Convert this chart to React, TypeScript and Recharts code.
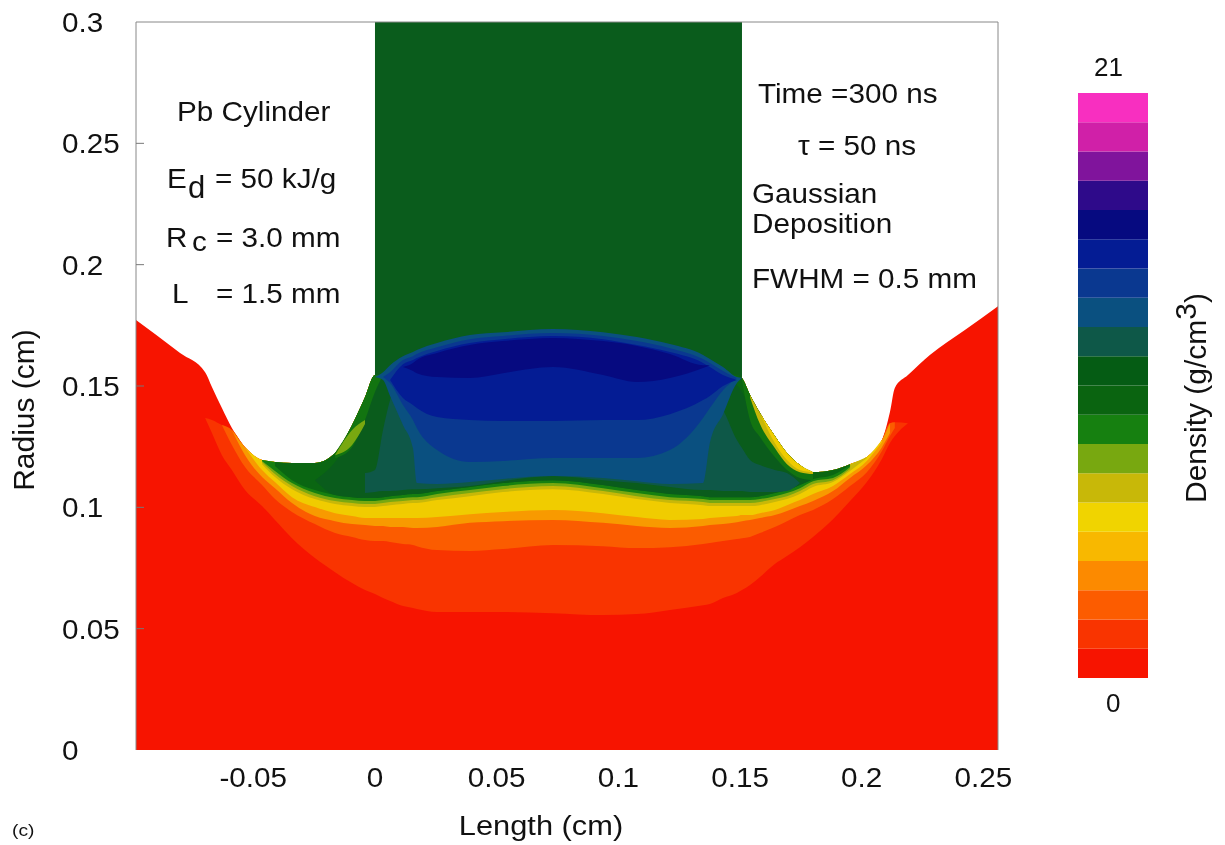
import React from 'react';
import {
  Area,
  Bar,
  BarChart,
  ComposedChart,
  ReferenceLine,
  XAxis,
  YAxis,
} from 'recharts';

const _ = null;

const xTicks = [-0.05, 0, 0.05, 0.1, 0.15, 0.2, 0.25];
const yTicks = [0, 0.05, 0.1, 0.15, 0.2, 0.25, 0.3];

// length samples (cm), left wing / centre / right wing
const lengths = [
  -0.0982, -0.0904, -0.0801, -0.0698, -0.067, -0.0629, -0.0588, -0.0534, -0.0464, -0.0411, -0.0341, -0.0247, -0.0164, -0.0094, -0.0041, 0,
  0.0033, 0.0062, 0.0115, 0.0156, 0.0172, 0.0255, 0.039, 0.0526, 0.0731, 0.0937, 0.1076, 0.1212, 0.1348, 0.1376, 0.143, 0.1487,
  0.1508, 0.1541, 0.1582, 0.1643, 0.1693, 0.1746, 0.18, 0.1882, 0.1952, 0.2021, 0.2083, 0.2116, 0.2136, 0.219, 0.228, 0.2424, 0.256,
];

// radius (cm) of each contour at those lengths
const surface = [
  0.1772, 0.1714, 0.1636, 0.1557, 0.1496, 0.1409, 0.1327, 0.1248, 0.1195, 0.1187, 0.1183, 0.1183, 0.1224, 0.1339, 0.1454, 0.1545,
  0.1545, 0.1545, 0.1545, 0.1545, 0.1545, 0.1545, 0.1545, 0.1545, 0.1545, 0.1545, 0.1545, 0.1545, 0.1545, 0.1545, 0.1545, 0.1545,
  0.1533, 0.1463, 0.1389, 0.1294, 0.1224, 0.1174, 0.1145, 0.1154, 0.1178, 0.1207, 0.1277, 0.1393, 0.1492, 0.1545, 0.1628, 0.1731, 0.1829,
];
const bandTop = [
  _, _, _, 0.1368, 0.136, 0.1339, 0.1319, 0.1248, 0.1195, 0.1187, 0.1183, 0.1183, 0.1224, 0.1339, 0.1454, 0.1545,
  0.1545, 0.1545, 0.1545, 0.1545, 0.1545, 0.1545, 0.1545, 0.1545, 0.1545, 0.1545, 0.1545, 0.1545, 0.1545, 0.1545, 0.1545, 0.1545,
  0.1533, 0.1463, 0.1389, 0.1294, 0.1224, 0.1174, 0.1145, 0.1154, 0.1178, 0.1207, 0.1277, 0.1347, 0.1351, 0.1347, _, _, _,
];
const redEdge = [
  _, _, _, 0.1368, 0.1306, 0.1215, 0.1154, 0.1071, 0.1005, 0.0948, 0.0873, 0.0791, 0.0733, 0.0688, 0.0659, 0.0643,
  0.0626, 0.0614, 0.0593, 0.0585, 0.0581, 0.0569, 0.0569, 0.0569, 0.0564, 0.0556, 0.056, 0.0577, 0.0597, 0.0602, 0.0626, 0.0647,
  0.0659, 0.068, 0.0713, 0.0766, 0.0799, 0.0836, 0.0878, 0.0951, 0.1026, 0.1104, 0.1199, 0.1265, 0.1294, 0.1347, _, _, _,
];
const orangeEdge = [
  _, _, _, _, _, 0.1339, 0.1257, 0.1166, 0.1092, 0.1034, 0.0981, 0.0931, 0.0894, 0.0878, 0.0865, 0.0861,
  0.0861, 0.0857, 0.0849, 0.0845, 0.084, 0.0824, 0.082, 0.0828, 0.0845, 0.084, 0.0832, 0.0836, 0.0849, 0.0853, 0.0861, 0.0869,
  0.0873, 0.0878, 0.0894, 0.0919, 0.0943, 0.0968, 0.0989, 0.1034, 0.1088, 0.1145, 0.1232, 0.1294, 0.1327, _, _, _, _,
];
const amberEdge = [
  _, _, _, _, _, _, 0.1319, 0.1215, 0.1125, 0.1079, 0.1018, 0.0964, 0.0943, 0.0931, 0.0927, 0.0923,
  0.0923, 0.0919, 0.0919, 0.0915, 0.0915, 0.0919, 0.0936, 0.0943, 0.0948, 0.0936, 0.0923, 0.0915, 0.0923, 0.0927, 0.0931, 0.0939,
  0.0943, 0.0948, 0.0956, 0.0968, 0.0985, 0.1005, 0.1026, 0.1067, 0.1121, 0.1174, 0.1248, 0.1306, _, _, _, _, _,
];
const yellowEdge = [
  _, _, _, _, _, _, _, 0.1248, 0.1154, 0.1104, 0.1042, 0.1001, 0.0976, 0.0964, 0.0956, 0.0956,
  0.0956, 0.0956, 0.0956, 0.0956, 0.0956, 0.096, 0.0972, 0.0981, 0.0989, 0.0976, 0.096, 0.0948, 0.0952, 0.0956, 0.096, 0.0964,
  0.0968, 0.0968, 0.0976, 0.0989, 0.1009, 0.103, 0.1055, 0.1088, 0.1137, 0.1191, 0.1269, _, _, _, _, _, _,
];
const oliveEdge = [
  _, _, _, _, _, _, _, _, 0.1178, 0.1125, 0.1075, 0.1034, 0.1014, 0.1005, 0.1001, 0.1001,
  0.1005, 0.1009, 0.1014, 0.1018, 0.1018, 0.103, 0.1046, 0.1063, 0.1075, 0.1055, 0.1034, 0.1018, 0.1009, 0.1005, 0.1005, 0.1005,
  0.1005, 0.1005, 0.1009, 0.1022, 0.1034, 0.1055, 0.1084, 0.1104, 0.115, 0.1203, _, _, _, _, _, _, _,
];
const limeEdge = [
  _, _, _, _, _, _, _, _, 0.1187, 0.1137, 0.1088, 0.1046, 0.1026, 0.1018, 0.1014, 0.1014,
  0.1018, 0.1022, 0.1026, 0.103, 0.103, 0.1042, 0.1059, 0.1075, 0.1088, 0.1067, 0.1046, 0.103, 0.1022, 0.1018, 0.1018, 0.1018,
  0.1018, 0.1018, 0.1022, 0.1034, 0.1046, 0.1067, 0.1096, 0.1112, 0.1158, _, _, _, _, _, _, _, _,
];
const greenEdge = [
  _, _, _, _, _, _, _, _, 0.1191, 0.115, 0.11, 0.1059, 0.1038, 0.103, 0.1026, 0.1026,
  0.103, 0.1034, 0.1038, 0.1042, 0.1042, 0.1055, 0.1071, 0.1088, 0.11, 0.1079, 0.1059, 0.1042, 0.1034, 0.103, 0.103, 0.103,
  0.103, 0.103, 0.1034, 0.1046, 0.1059, 0.1079, 0.1108, 0.1121, 0.1166, _, _, _, _, _, _, _, _,
];
const darkEdge = [
  _, _, _, _, _, _, _, _, _, 0.117, 0.1112, 0.1071, 0.1051, 0.1042, 0.1038, 0.1038,
  0.1042, 0.1046, 0.1051, 0.1055, 0.1055, 0.1067, 0.1084, 0.11, 0.1112, 0.1092, 0.1071, 0.1055, 0.1046, 0.1042, 0.1042, 0.1042,
  0.1042, 0.1042, 0.1046, 0.1059, 0.1071, 0.1092, 0.1116, 0.1133, 0.1174, _, _, _, _, _, _, _, _,
];
const deepLow = [
  _, _, _, _, _, _, _, _, _, _, _, 0.1112, 0.1051, 0.1042, 0.1038, 0.1038,
  0.1042, 0.1046, 0.1051, 0.1055, 0.1055, 0.1067, 0.1084, 0.11, 0.1112, 0.1092, 0.1071, 0.1055, 0.1046, 0.1042, 0.1042, 0.1042,
  0.1042, 0.1042, 0.1046, 0.1059, 0.1071, 0.1092, 0.1116, _, _, _, _, _, _, _, _, _, _,
];
const deepHigh = [
  _, _, _, _, _, _, _, _, _, _, _, 0.1112, 0.1187, 0.1298, 0.1413, 0.1504,
  0.1545, 0.1545, 0.1545, 0.1545, 0.1545, 0.1545, 0.1545, 0.1545, 0.1545, 0.1545, 0.1545, 0.1545, 0.1545, 0.1545, 0.1545, 0.1504,
  0.1475, 0.1393, 0.1311, 0.1224, 0.117, 0.1133, 0.1124, _, _, _, _, _, _, _, _, _, _,
];
const columnLow = [
  _, _, _, _, _, _, _, _, _, _, _, _, _, _, _, 0.1545,
  0.1545, 0.1545, 0.1545, 0.1545, 0.1545, 0.1545, 0.1545, 0.1545, 0.1545, 0.1545, 0.1545, 0.1545, 0.1545, 0.1545, 0.1545, 0.1545,
  0.1533, _, _, _, _, _, _, _, _, _, _, _, _, _, _, _, _,
];
const columnTop = [
  _, _, _, _, _, _, _, _, _, _, _, _, _, _, _, 0.3,
  0.3, 0.3, 0.3, 0.3, 0.3, 0.3, 0.3, 0.3, 0.3, 0.3, 0.3, 0.3, 0.3, 0.3, 0.3, 0.3,
  0.3, _, _, _, _, _, _, _, _, _, _, _, _, _, _, _, _,
];
const leftRing = [
  _, _, _, _, _, _, _, _, _, _, _, _, 0.1203, 0.1248, 0.136, 0.1475,
  0.1545, _, _, _, _, _, _, _, _, _, _, _, _, _, _, _,
  _, _, _, _, _, _, _, _, _, _, _, _, _, _, _, _, _,
];
const spotLow = [
  _, _, _, _, _, _, _, _, _, _, _, _, 0.1215, 0.1257, 0.1343, _,
  _, _, _, _, _, _, _, _, _, _, _, _, _, _, _, _,
  _, _, _, _, _, _, _, _, _, _, _, _, _, _, _, _, _,
];
const spotHigh = [
  _, _, _, _, _, _, _, _, _, _, _, _, 0.1215, 0.1319, 0.136, _,
  _, _, _, _, _, _, _, _, _, _, _, _, _, _, _, _,
  _, _, _, _, _, _, _, _, _, _, _, _, _, _, _, _, _,
];
const rightRing = [
  _, _, _, _, _, _, _, _, _, _, _, _, _, _, _, _,
  _, _, _, _, _, _, _, _, _, _, _, _, _, _, _, _,
  0.1525, 0.136, 0.129, 0.1207, 0.1154, 0.1121, 0.1112, _, _, _, _, _, _, _, _, _, _,
];
const rightOlive = [
  _, _, _, _, _, _, _, _, _, _, _, _, _, _, _, _,
  _, _, _, _, _, _, _, _, _, _, _, _, _, _, _, _,
  _, 0.1454, 0.1343, 0.1244, 0.1178, 0.1145, 0.1137, _, _, _, _, _, _, _, _, _, _,
];
const rightYellow = [
  _, _, _, _, _, _, _, _, _, _, _, _, _, _, _, _,
  _, _, _, _, _, _, _, _, _, _, _, _, _, _, _, _,
  _, _, 0.1389, 0.1265, 0.1195, 0.1154, 0.1145, _, _, _, _, _, _, _, _, _, _,
];
const tealLow = [
  _, _, _, _, _, _, _, _, _, _, _, _, _, _, 0.1059, 0.1063,
  0.1067, 0.1067, 0.1071, 0.1075, 0.1075, 0.1079, 0.1088, 0.1108, 0.1129, 0.1112, 0.11, 0.1084, 0.1071, 0.1071, 0.1067, 0.1067,
  0.1067, 0.1063, 0.1063, 0.1063, 0.1067, 0.11, _, _, _, _, _, _, _, _, _, _, _,
];
const tealHigh = [
  _, _, _, _, _, _, _, _, _, _, _, _, _, _, 0.1141, 0.1154,
  0.1319, 0.1442, 0.1545, 0.1545, 0.1545, 0.1545, 0.1545, 0.1545, 0.1545, 0.1545, 0.1545, 0.1545, 0.1545, 0.1463, 0.1401, 0.1277,
  0.1244, 0.1195, 0.1174, 0.1154, 0.1141, 0.11, _, _, _, _, _, _, _, _, _, _, _,
];
const steelLow = [
  _, _, _, _, _, _, _, _, _, _, _, _, _, _, _, 0.1537,
  0.1525, 0.1459, 0.1339, 0.1244, 0.11, 0.1096, 0.1104, 0.1117, 0.1129, 0.1121, 0.1108, 0.1096, 0.11, 0.1265, 0.1384, 0.1512,
  0.1533, _, _, _, _, _, _, _, _, _, _, _, _, _, _, _, _,
];
const steelHigh = [
  _, _, _, _, _, _, _, _, _, _, _, _, _, _, _, 0.1537,
  0.1557, 0.1586, 0.1623, 0.164, 0.1648, 0.1677, 0.171, 0.1722, 0.1735, 0.1722, 0.1702, 0.1673, 0.1628, 0.1611, 0.1578, 0.1537,
  0.1533, _, _, _, _, _, _, _, _, _, _, _, _, _, _, _, _,
];
const blueLow = [
  _, _, _, _, _, _, _, _, _, _, _, _, _, _, _, _,
  0.1537, 0.1512, 0.1422, 0.136, 0.1327, 0.1236, 0.1187, 0.1191, 0.1203, 0.1203, 0.1203, 0.1236, 0.1368, 0.1409, 0.1483, 0.1533,
  _, _, _, _, _, _, _, _, _, _, _, _, _, _, _, _, _,
];
const blueHigh = [
  _, _, _, _, _, _, _, _, _, _, _, _, _, _, _, _,
  0.1537, 0.1557, 0.1607, 0.1623, 0.1632, 0.166, 0.1693, 0.1706, 0.1718, 0.1706, 0.1685, 0.1656, 0.1611, 0.1595, 0.1562, 0.1533,
  _, _, _, _, _, _, _, _, _, _, _, _, _, _, _, _, _,
];
const royalLow = [
  _, _, _, _, _, _, _, _, _, _, _, _, _, _, _, _,
  _, 0.1525, 0.1451, 0.1422, 0.1409, 0.1372, 0.136, 0.1356, 0.1356, 0.136, 0.136, 0.1384, 0.1442, 0.1459, 0.15, 0.1525,
  _, _, _, _, _, _, _, _, _, _, _, _, _, _, _, _, _,
];
const royalHigh = [
  _, _, _, _, _, _, _, _, _, _, _, _, _, _, _, _,
  _, 0.1525, 0.159, 0.1607, 0.1615, 0.1644, 0.1677, 0.1693, 0.1706, 0.1693, 0.1669, 0.164, 0.1595, 0.1578, 0.1545, 0.1525,
  _, _, _, _, _, _, _, _, _, _, _, _, _, _, _, _, _,
];
const navyLow = [
  _, _, _, _, _, _, _, _, _, _, _, _, _, _, _, _,
  _, _, 0.1578, 0.1562, 0.1553, 0.1537, 0.1533, 0.1553, 0.1578, 0.1545, 0.1516, 0.1533, 0.1574, 0.1586, _, _,
  _, _, _, _, _, _, _, _, _, _, _, _, _, _, _, _, _,
];
const navyHigh = [
  _, _, _, _, _, _, _, _, _, _, _, _, _, _, _, _,
  _, _, 0.1578, 0.1595, 0.1607, 0.1636, 0.1669, 0.1685, 0.1698, 0.1685, 0.1665, 0.1632, 0.1586, 0.1586, _, _,
  _, _, _, _, _, _, _, _, _, _, _, _, _, _, _, _, _,
];

// painted back to front
const layers = [
  { key: 'redOrange', color: '#f93400', low: redEdge, high: bandTop },
  { key: 'orange', color: '#fb5c00', low: orangeEdge, high: bandTop },
  { key: 'amber', color: '#f89a00', low: amberEdge, high: bandTop },
  { key: 'yellow', color: '#f0cc00', low: yellowEdge, high: bandTop },
  { key: 'olive', color: '#c8b808', low: oliveEdge, high: bandTop },
  { key: 'lime', color: '#78a810', low: limeEdge, high: bandTop },
  { key: 'green', color: '#168010', low: greenEdge, high: bandTop },
  { key: 'dark', color: '#0a6612', low: darkEdge, high: bandTop },
  { key: 'deep', color: '#0a5c1c', low: deepLow, high: deepHigh },
  { key: 'column', color: '#0a5c1c', low: columnLow, high: columnTop, straight: true },
  { key: 'leftRing', color: '#127410', low: leftRing, high: surface },
  { key: 'spot', color: '#78a810', low: spotLow, high: spotHigh },
  { key: 'rightRing', color: '#127410', low: rightRing, high: surface },
  { key: 'rightOlive', color: '#c8b808', low: rightOlive, high: surface },
  { key: 'rightYellow', color: '#f0cc00', low: rightYellow, high: surface },
  { key: 'teal', color: '#0e5848', low: tealLow, high: tealHigh },
  { key: 'steel', color: '#0a5080', low: steelLow, high: steelHigh },
  { key: 'blue', color: '#0a3890', low: blueLow, high: blueHigh },
  { key: 'royal', color: '#041c94', low: royalLow, high: royalHigh },
  { key: 'navy', color: '#060a80', low: navyLow, high: navyHigh },
];

const tableRows = lengths.map((x, i) => {
  const row: Record<string, any> = { x, red: surface[i] };
  layers.forEach((l) => {
    const lo = l.low[i];
    const hi = l.high[i];
    row[l.key] = lo == null || hi == null ? null : [lo, hi];
  });
  return row;
});

// colour scale, bottom (0) to top (21)
const scaleColors = [
  '#f71400', '#f93400', '#fc5c00', '#fc8a00', '#f8b800', '#f0d400', '#c8b808', '#78a810', '#168010', '#0a6410',
  '#055c14', '#0e5848', '#0a5080', '#0a3890', '#041c94', '#060a80', '#2e0a8a', '#80149c', '#d020a8', '#f82fc0',
];
const scaleSteps = [
  1.05, 1.05, 1.05, 1.05, 1.05, 1.05, 1.05, 1.05, 1.05, 1.05,
  1.05, 1.05, 1.05, 1.05, 1.05, 1.05, 1.05, 1.05, 1.05, 1.05,
];
const scaleRow: Record<string, number> = {};
scaleSteps.forEach((v, i) => {
  scaleRow['s' + i] = v;
});

const FONT = '"Liberation Sans", Arial, sans-serif';
const TEXT = '#111';
const SIZE = 28;
const STRETCH = 1.06; // the scan is a bit wider than it is tall

function RadiusTick({ y, payload }: any) {
  const v = payload.value;
  return (
    <g>
      {v > 0 && v < 0.3 && <line x1={136} x2={144} y1={y} y2={y} stroke="#777" />}
      <text transform={`translate(62,${y + 10}) scale(${STRETCH},1)`} fontSize={SIZE} fontFamily={FONT} fill={TEXT}>
        {String(v)}
      </text>
    </g>
  );
}

function LengthTick({ x, payload }: any) {
  return (
    <text
      transform={`translate(${x},787) scale(${STRETCH},1)`}
      textAnchor="middle"
      fontSize={SIZE}
      fontFamily={FONT}
      fill={TEXT}
    >
      {String(payload.value)}
    </text>
  );
}

function Note({ x, y, size = SIZE, stretch = STRETCH, children }: any) {
  return (
    <text transform={`translate(${x},${y}) scale(${stretch},1)`} fontSize={size} fontFamily={FONT} fill={TEXT}>
      {children}
    </text>
  );
}

export default function App() {
  return (
    <div
      style={{
        position: 'absolute',
        left: 0,
        top: 0,
        width: 1225,
        height: 845,
        background: 'white',
        filter: 'blur(0.6px)',
      }}
    >
      <ComposedChart
        width={1225}
        height={845}
        data={tableRows}
        margin={{ top: 22, right: 227, bottom: 0, left: 0 }}
      >
        <XAxis
          dataKey="x"
          type="number"
          domain={[-0.0982, 0.256]}
          ticks={xTicks}
          height={95}
          tickLine={false}
          axisLine={false}
          interval={0}
          tick={LengthTick}
        />
        <YAxis
          type="number"
          domain={[0, 0.3]}
          ticks={yTicks}
          width={136}
          tickLine={false}
          axisLine={false}
          interval={0}
          tick={RadiusTick}
        />
        <Area type="monotone" dataKey="red" fill="#f71400" stroke="none" fillOpacity={1} isAnimationActive={false} dot={false} activeDot={false} />
        {layers.map((l) => (
          <Area
            key={l.key}
            type={l.straight ? 'linear' : 'monotone'}
            dataKey={l.key}
            fill={l.color}
            stroke="none"
            fillOpacity={1}
            isAnimationActive={false}
            dot={false}
            activeDot={false}
          />
        ))}
        <ReferenceLine y={0.3} stroke="#888" />
        <ReferenceLine x={-0.0982} stroke="#888" />
        <ReferenceLine x={0.256} stroke="#888" />
      </ComposedChart>

      <div style={{ position: 'absolute', left: 1078, top: 93 }}>
        <BarChart width={70} height={585} data={[scaleRow]} margin={{ top: 0, right: 0, bottom: 0, left: 0 }} barCategoryGap={0}>
          <XAxis hide />
          <YAxis hide domain={[0, 21]} />
          {scaleColors.map((c, i) => (
            <Bar key={c + i} dataKey={'s' + i} stackId="scale" fill={c} isAnimationActive={false} />
          ))}
        </BarChart>
      </div>

      <svg width={1225} height={845} style={{ position: 'absolute', left: 0, top: 0, pointerEvents: 'none' }}>
        <Note x={177} y={121}>Pb Cylinder</Note>
        <Note x={167} y={188}>E</Note>
        <Note x={188} y={198} size={31} stretch={1}>d</Note>
        <Note x={215} y={188}>= 50 kJ/g</Note>
        <Note x={166} y={247}>R</Note>
        <Note x={192} y={251}>c</Note>
        <Note x={216} y={247}>= 3.0 mm</Note>
        <Note x={172} y={303}>L</Note>
        <Note x={216} y={303}>= 1.5 mm</Note>
        <Note x={758} y={103}>Time =300 ns</Note>
        <Note x={798} y={155}>τ = 50 ns</Note>
        <Note x={752} y={203}>Gaussian</Note>
        <Note x={752} y={233}>Deposition</Note>
        <Note x={752} y={288}>FWHM = 0.5 mm</Note>
        <Note x={1094} y={76} size={26} stretch={1}>21</Note>
        <Note x={1106} y={712} size={26} stretch={1}>0</Note>
        <Note x={12} y={836} size={16} stretch={1.2}>(c)</Note>
        <text transform={`translate(541,835) scale(1.1,1)`} textAnchor="middle" fontSize={28} fontFamily={FONT} fill={TEXT}>
          Length (cm)
        </text>
        <text transform="translate(34,410) rotate(-90)" textAnchor="middle" fontSize={30} fontFamily={FONT} fill={TEXT}>
          Radius (cm)
        </text>
        <text transform="translate(1206,398) rotate(-90)" textAnchor="middle" fontSize={30} fontFamily={FONT} fill={TEXT}>
          Density (g/cm<tspan dy={-10}>3</tspan><tspan dy={10}>)</tspan>
        </text>
      </svg>
    </div>
  );
}
